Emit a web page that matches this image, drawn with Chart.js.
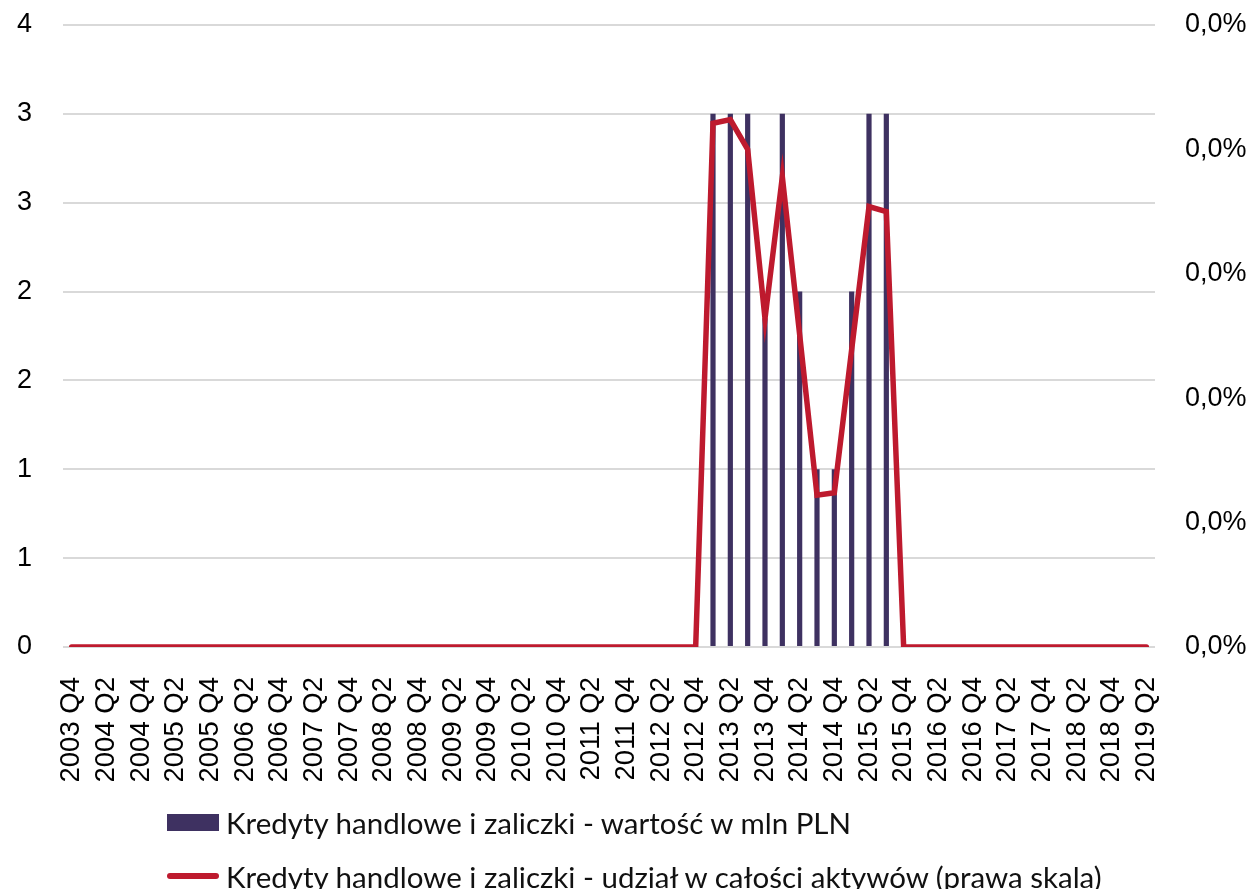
<!DOCTYPE html>
<html lang="pl">
<head>
<meta charset="utf-8">
<title>Kredyty handlowe i zaliczki</title>
<script src="https://cdn.jsdelivr.net/npm/chart.js@4.4.1/dist/chart.umd.min.js"></script>
<style>
    html, body { margin: 0; padding: 0; background: #fff; }
    #wrap { position: relative; width: 1250px; height: 889px; }
    #legend { position: absolute; left: 167px; top: 800px; font-family: Lato, "Open Sans", sans-serif; font-size: 29.5px; color: #111; }
    .legend-row { display: flex; align-items: center; height: 44px; margin-bottom: 10px; white-space: nowrap; }
    .legend-bar { width: 52px; height: 17px; background: #3E3161; margin-right: 7px; flex: none; }
    .legend-line { width: 52px; height: 6px; border-radius: 3px; background: #BE1A2E; margin-right: 7px; flex: none; }
</style>
</head>
<body>
<div id="wrap">
    <canvas id="kredytyChart" width="1250" height="889"></canvas>
    <div id="legend"></div>
</div>
<script>
// Kwartały 2003 Q4 - 2019 Q2
const quarters = [
    '2003 Q4',
    '2004 Q1', '2004 Q2', '2004 Q3', '2004 Q4',
    '2005 Q1', '2005 Q2', '2005 Q3', '2005 Q4',
    '2006 Q1', '2006 Q2', '2006 Q3', '2006 Q4',
    '2007 Q1', '2007 Q2', '2007 Q3', '2007 Q4',
    '2008 Q1', '2008 Q2', '2008 Q3', '2008 Q4',
    '2009 Q1', '2009 Q2', '2009 Q3', '2009 Q4',
    '2010 Q1', '2010 Q2', '2010 Q3', '2010 Q4',
    '2011 Q1', '2011 Q2', '2011 Q3', '2011 Q4',
    '2012 Q1', '2012 Q2', '2012 Q3', '2012 Q4',
    '2013 Q1', '2013 Q2', '2013 Q3', '2013 Q4',
    '2014 Q1', '2014 Q2', '2014 Q3', '2014 Q4',
    '2015 Q1', '2015 Q2', '2015 Q3', '2015 Q4',
    '2016 Q1', '2016 Q2', '2016 Q3', '2016 Q4',
    '2017 Q1', '2017 Q2', '2017 Q3', '2017 Q4',
    '2018 Q1', '2018 Q2', '2018 Q3', '2018 Q4',
    '2019 Q1', '2019 Q2'
];

// wartość w mln PLN (lewa skala)
const valueMln = [
    0,
    0, 0, 0, 0,
    0, 0, 0, 0,
    0, 0, 0, 0,
    0, 0, 0, 0,
    0, 0, 0, 0,
    0, 0, 0, 0,
    0, 0, 0, 0,
    0, 0, 0, 0,
    0, 0, 0, 0,
    3.0, 3.0, 3.0, 1.85,
    3.0, 2.0, 1.0, 1.0,
    2.0, 3.0, 3.0, 0,
    0, 0, 0, 0,
    0, 0, 0, 0,
    0, 0, 0, 0,
    0, 0
];

// udział w całości aktywów, % (prawa skala)
const sharePct = [
    0,
    0, 0, 0, 0,
    0, 0, 0, 0,
    0, 0, 0, 0,
    0, 0, 0, 0,
    0, 0, 0, 0,
    0, 0, 0, 0,
    0, 0, 0, 0,
    0, 0, 0, 0,
    0, 0, 0, 0,
    0.0421, 0.0424, 0.0400, 0.0264,
    0.0378, 0.0251, 0.0122, 0.0124,
    0.0239, 0.0354, 0.0350, 0,
    0, 0, 0, 0,
    0, 0, 0, 0,
    0, 0, 0, 0,
    0, 0
];

const seriesNames = [
    'Kredyty handlowe i zaliczki - wartość w mln PLN',
    'Kredyty handlowe i zaliczki - udział w całości aktywów (prawa skala)'
];

const BAR_COLOR = '#3E3161';
const LINE_COLOR = '#BE1A2E';
const Y_FONT = { family: '"Liberation Sans", Arial, sans-serif', size: 27 };
const X_FONT = { family: '"Liberation Sans", Arial, sans-serif', size: 27.5 };

// Stałe wymiary osi, żeby obszar wykresu wypadł jak w oryginale
const fixAxis = (w, h) => scale => {
    scale.paddingLeft = 0;
    scale.paddingRight = 0;
    scale.paddingTop = 0;
    scale.paddingBottom = 0;
    if (w) scale.width = w;
    if (h) scale.height = h;
};

function renderLegend() {
    const box = document.getElementById('legend');
    box.innerHTML = `
        <div class="legend-row"><span class="legend-bar"></span><span>${seriesNames[0]}</span></div>
        <div class="legend-row"><span class="legend-line"></span><span>${seriesNames[1]}</span></div>
    `;
}

function renderChart() {
    const ctx = document.getElementById('kredytyChart').getContext('2d');
    new Chart(ctx, {
        type: 'bar',
        data: {
            labels: quarters,
            datasets: [
                {
                    type: 'line',
                    label: seriesNames[1],
                    data: sharePct,
                    yAxisID: 'y1',
                    borderColor: LINE_COLOR,
                    borderWidth: 5.5,
                    borderCapStyle: 'round',
                    pointRadius: 0,
                    tension: 0,
                    order: 0
                },
                {
                    label: seriesNames[0],
                    data: valueMln,
                    yAxisID: 'y',
                    backgroundColor: BAR_COLOR,
                    categoryPercentage: 1,
                    barPercentage: 0.3,
                    order: 1
                }
            ]
        },
        options: {
            responsive: false,
            animation: false,
            layout: { padding: { top: 25, left: 17, right: 3, bottom: 102 } },
            plugins: {
                legend: { display: false },
                tooltip: { enabled: false }
            },
            scales: {
                x: {
                    grid: { display: false },
                    border: { display: false },
                    afterFit: fixAxis(0, 140),
                    ticks: {
                        autoSkip: false,
                        maxRotation: 90,
                        minRotation: 90,
                        padding: 22,
                        color: '#000',
                        font: X_FONT,
                        // co drugi kwartał, jak w oryginale
                        callback: function (val, i) { return i % 2 === 0 ? quarters[i] : ''; }
                    }
                },
                y: {
                    position: 'left',
                    min: 0,
                    max: 3.5,
                    grid: { color: '#D9D9D9', lineWidth: 2, drawTicks: false },
                    border: { display: false },
                    afterFit: fixAxis(46, 0),
                    ticks: {
                        stepSize: 0.5,
                        padding: 31,
                        color: '#000',
                        font: Y_FONT,
                        callback: v => String(Math.round(v))
                    }
                },
                y1: {
                    position: 'right',
                    min: 0,
                    max: 0.05,
                    grid: { display: false, drawTicks: false },
                    border: { display: false },
                    afterFit: fixAxis(92, 0),
                    ticks: {
                        stepSize: 0.01,
                        padding: 30,
                        color: '#000',
                        font: Y_FONT,
                        callback: v => (Math.floor(v * 10 + 1e-9) / 10).toFixed(1).replace('.', ',') + '%'
                    }
                }
            }
        }
    });
}

renderLegend();
renderChart();
</script>
</body>
</html>
